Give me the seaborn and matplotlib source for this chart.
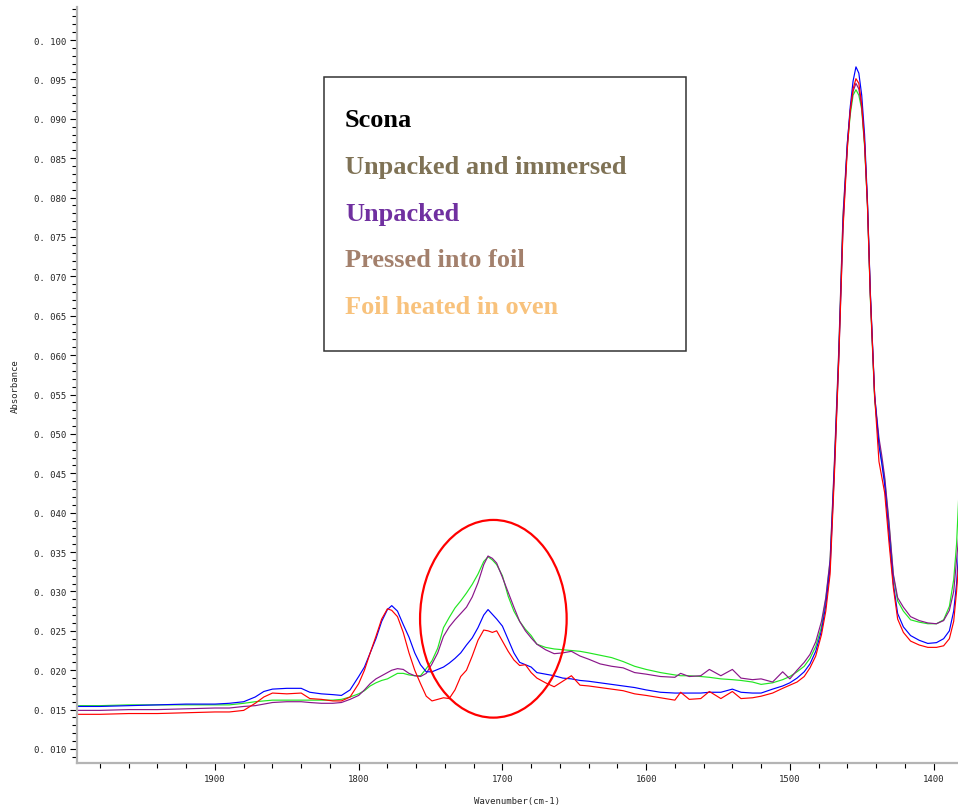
import numpy as np
import pandas as pd
import seaborn as sns
import matplotlib.pyplot as plt
from matplotlib.patches import Ellipse, Rectangle
from matplotlib.ticker import MultipleLocator, FuncFormatter

# wavenumbers (cm-1), high -> low
wavenumber = [
    1997, 1980, 1960, 1940, 1920, 1900, 1890, 1880, 1872, 1866,
    1860, 1850, 1840, 1834, 1826, 1818, 1812, 1806, 1800, 1796,
    1792, 1788, 1784, 1780, 1777, 1773, 1769, 1765, 1761, 1757,
    1753, 1749, 1745, 1741, 1737, 1733, 1729, 1725, 1721, 1717,
    1713, 1710, 1707, 1704, 1700, 1696, 1692, 1688, 1684, 1680,
    1676, 1670, 1664, 1658, 1652, 1646, 1640, 1632, 1624, 1616,
    1608, 1600, 1590, 1580, 1576, 1570, 1562, 1556, 1548, 1540,
    1534, 1526, 1520, 1512, 1505, 1500, 1495, 1490, 1486, 1482,
    1478, 1475, 1472, 1469, 1466, 1463, 1460, 1458, 1456, 1454,
    1452, 1450, 1448, 1446, 1444, 1441, 1438, 1436, 1434, 1431,
    1428, 1425, 1421, 1416, 1410, 1404, 1398, 1393, 1389, 1386,
    1384, 1382,
]

abs_green = [
    .0155, .0155, .0156, .0156, .0156, .0156, .0156, .0158, .0160, .0161,
    .0162, .0162, .0162, .0162, .0162, .0162, .0163, .0166, .0170, .0174,
    .0180, .0184, .0187, .0189, .0192, .0196, .0196, .0194, .0193, .0193,
    .0202, .0212, .0228, .0254, .0267, .0279, .0288, .0298, .0309, .0322,
    .0338, .0344, .0340, .0334, .0320, .0294, .0275, .0262, .0252, .0244,
    .0233, .0229, .0227, .0226, .0225, .0224, .0222, .0219, .0216, .0211,
    .0205, .0201, .0197, .0194, .0193, .0193, .0192, .0191, .0189, .0188,
    .0187, .0185, .0182, .0184, .0188, .0192, .0198, .0205, .0215, .0230,
    .0255, .0290, .0338, .0460, .0600, .0775, .0865, .0905, .0930, .0937,
    .0930, .0912, .0865, .0790, .0672, .0544, .0490, .0465, .0442, .0385,
    .0320, .0288, .0275, .0264, .0261, .0259, .0259, .0264, .0281, .0315,
    .0360, .0440,
]

abs_purple = [
    .0149, .0149, .0150, .0150, .0151, .0152, .0152, .0154, .0155, .0157,
    .0159, .0160, .0160, .0159, .0158, .0158, .0159, .0163, .0168, .0175,
    .0183, .0189, .0193, .0197, .0200, .0202, .0201, .0196, .0193, .0192,
    .0196, .0208, .0222, .0243, .0255, .0264, .0272, .0280, .0293, .0311,
    .0334, .0345, .0342, .0336, .0318, .0299, .0280, .0262, .0250, .0241,
    .0233, .0226, .0221, .0222, .0224, .0218, .0214, .0208, .0205, .0203,
    .0197, .0195, .0192, .0191, .0196, .0192, .0193, .0201, .0193, .0201,
    .0190, .0188, .0189, .0185, .0198, .0189, .0200, .0210, .0220, .0236,
    .0262, .0292, .0340, .0465, .0605, .0778, .0870, .0910, .0935, .0945,
    .0938, .0915, .0868, .0792, .0678, .0548, .0495, .0472, .0445, .0388,
    .0322, .0292, .0280, .0268, .0263, .0260, .0259, .0263, .0276, .0300,
    .0340, .0380,
]

abs_blue = [
    .0154, .0154, .0155, .0156, .0157, .0157, .0158, .0160, .0166, .0173,
    .0176, .0177, .0177, .0172, .0170, .0169, .0168, .0175, .0192, .0204,
    .0222, .0240, .0262, .0277, .0282, .0275, .0258, .0242, .0222, .0207,
    .0198, .0198, .0201, .0204, .0209, .0215, .0222, .0232, .0241, .0254,
    .0270, .0277, .0271, .0265, .0256, .0239, .0222, .0210, .0207, .0204,
    .0197, .0195, .0193, .0190, .0189, .0187, .0186, .0184, .0182, .0180,
    .0178, .0175, .0172, .0171, .0171, .0171, .0171, .0172, .0172, .0176,
    .0172, .0171, .0171, .0176, .0180, .0184, .0190, .0198, .0208, .0224,
    .0250, .0282, .0330, .0455, .0595, .0765, .0868, .0915, .0948, .0966,
    .0958, .0930, .0880, .0795, .0680, .0550, .0485, .0462, .0435, .0372,
    .0310, .0272, .0255, .0244, .0238, .0234, .0235, .0240, .0250, .0275,
    .0310, .0366,
]

abs_red = [
    .0144, .0144, .0145, .0145, .0146, .0147, .0147, .0149, .0158, .0166,
    .0171, .0170, .0171, .0164, .0163, .0161, .0161, .0166, .0183, .0200,
    .0222, .0243, .0265, .0278, .0276, .0268, .0248, .0222, .0200, .0183,
    .0167, .0161, .0163, .0165, .0164, .0175, .0192, .0200, .0218, .0238,
    .0251, .0250, .0248, .0250, .0237, .0224, .0213, .0206, .0207, .0197,
    .0190, .0184, .0179, .0186, .0193, .0181, .0180, .0178, .0176, .0174,
    .0170, .0168, .0165, .0162, .0172, .0163, .0164, .0173, .0164, .0173,
    .0164, .0165, .0167, .0171, .0177, .0181, .0185, .0192, .0203, .0218,
    .0245, .0275, .0322, .0448, .0592, .0760, .0862, .0910, .0938, .0951,
    .0945, .0918, .0870, .0790, .0675, .0548, .0465, .0445, .0425, .0362,
    .0305, .0265, .0248, .0237, .0232, .0229, .0229, .0231, .0240, .0262,
    .0300, .0350,
]

line_colors = {"green": "#22e622", "purple": "#8a168a", "blue": "#0000ff", "red": "#ff0000"}

legend_labels = ["Scona", "Unpacked and immersed", "Unpacked",
                 "Pressed into foil", "Foil heated in oven"]
legend_colors = ["#000000", "#7f7255", "#7030a0", "#a3806c", "#f8c27c"]

# circled carbonyl region (centre wavenumber, centre absorbance, widths)
circle_center = (1706.3, 0.02653)
circle_size = (102, 0.0251)

df = pd.DataFrame({"wavenumber": wavenumber, "green": abs_green, "purple": abs_purple,
                   "blue": abs_blue, "red": abs_red})
long = df.melt(id_vars="wavenumber", var_name="sample", value_name="absorbance")

sns.set_style("ticks")
fig = plt.figure(figsize=(9.58, 8.12), dpi=100)
ax = fig.add_axes([77 / 958, 48 / 812, 881 / 958, 756 / 812])

sns.lineplot(data=long, x="wavenumber", y="absorbance", hue="sample",
             hue_order=["green", "purple", "blue", "red"], palette=line_colors,
             estimator=None, sort=False, lw=0.85, legend=False, ax=ax)

ax.set_xlim(1996, 1383)
ax.set_ylim(0.00822, 0.1042)

ax.xaxis.set_major_locator(MultipleLocator(100))
ax.xaxis.set_minor_locator(MultipleLocator(20))
ax.yaxis.set_major_locator(MultipleLocator(0.005))
ax.yaxis.set_minor_locator(MultipleLocator(0.001))
ax.yaxis.set_major_formatter(FuncFormatter(lambda v, p: f"{v:.3f}".replace(".", ". ")))
ax.xaxis.set_major_formatter(FuncFormatter(lambda v, p: f"{v:.0f}"))

tick_font = "DejaVu Sans Mono"
ax.tick_params(which="both", direction="out", color="black", width=0.8, labelsize=6.5, pad=3)
ax.tick_params(which="major", length=5)
ax.tick_params(which="minor", length=3.5)
for lab in ax.get_xticklabels() + ax.get_yticklabels():
    lab.set_family(tick_font)

sns.despine(ax=ax)
for side in ["left", "bottom"]:
    ax.spines[side].set_color("#b4b4b4")
    ax.spines[side].set_linewidth(1.6)

ax.set_xlabel("Wavenumber(cm-1)", family=tick_font, fontsize=6.5, va="center")
ax.set_ylabel("Absorbance", family=tick_font, fontsize=6.5, va="center")
ax.xaxis.set_label_coords(0.5, -0.049)
ax.yaxis.set_label_coords(-0.0704, 0.5)

# red ellipse around the 1710 band
ax.add_patch(Ellipse(circle_center, circle_size[0], circle_size[1],
                     fill=False, edgecolor="red", lw=1.6, zorder=5))

# text box with sample names
ax.add_patch(Rectangle((0.2804, 0.5446), 0.6909 - 0.2804, 0.9070 - 0.5446,
                       transform=ax.transAxes, fill=False, edgecolor="#333333", lw=1.1, zorder=6))
baselines = [0.8430, 0.7804, 0.7187, 0.6570, 0.5952]
for txt, col, yb in zip(legend_labels, legend_colors, baselines):
    ax.text(0.3042, yb, txt, transform=ax.transAxes, color=col, fontsize=19,
            fontweight="bold", family="Liberation Serif", va="baseline", ha="left", zorder=7)

fig.savefig("out.png", dpi=100)
